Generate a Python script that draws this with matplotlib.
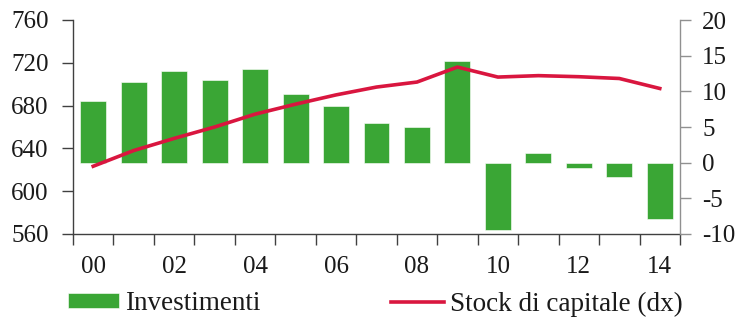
import numpy as np
import matplotlib
matplotlib.use('Agg')
from matplotlib import pyplot as plt
from matplotlib import font_manager

# 年份标签与数据
anni = ['00', '01', '02', '03', '04', '05', '06', '07', '08', '09', '10', '11', '12', '13', '14']
investimenti = [8.6, 11.3, 12.9, 11.6, 13.1, 9.6, 7.9, 5.5, 5.0, 14.2, -9.4, 1.4, -0.7, -2.0, -7.9]
stock_capitale = [-0.5, 1.7, 3.4, 5.0, 6.8, 8.2, 9.5, 10.6, 11.3, 13.4, 12.0, 12.2, 12.05, 11.8, 10.4]
sx_ticks = [560, 600, 640, 680, 720, 760]
dx_ticks = [-10, -5, 0, 5, 10, 15, 20]

# 字体检查（找不到就报错）
font_manager.findfont('Liberation Serif', fallback_to_default=False)
plt.rcParams['font.family'] = ['Liberation Serif', 'DejaVu Serif']
plt.rcParams['font.size'] = 18
plt.rcParams['axes.unicode_minus'] = False

verde = '#3aa635'
rosso = '#d9163f'
testo = '#1a1a1a'

fig = plt.figure(figsize=(7.4, 3.22), dpi=100)
ax1 = fig.add_axes([73 / 740, 1 - 234 / 322, (680 - 73) / 740, 214 / 322])
ax2 = ax1.twinx()

x = np.arange(len(anni))
barre = ax2.bar(x, investimenti, width=0.64, color=verde, edgecolor='white', linewidth=0.4,
                label='Investimenti')
linea, = ax2.plot(x, stock_capitale, color=rosso, linewidth=2.6, label='Stock di capitale (dx)')

# 左轴
ax1.set_ylim(560, 760)
ax1.set_yticks(sx_ticks)
ax1.set_xlim(-0.5, len(anni) - 0.5)
ax1.set_xticks(np.arange(-0.5, len(anni), 1))
ax1.set_xticklabels([])
ax1.set_xticks(x[::2], minor=True)
ax1.set_xticklabels(anni[::2], minor=True)
ax1.tick_params(axis='x', which='major', length=8, width=1, color='#404040')
ax1.tick_params(axis='x', which='minor', length=0, pad=16, labelcolor=testo)
ax1.tick_params(axis='y', length=8, width=1, color='#404040', pad=9.5, labelcolor=testo)
for s in ['top', 'right']:
    ax1.spines[s].set_visible(False)
for s in ['left', 'bottom']:
    ax1.spines[s].set_color('#404040')
    ax1.spines[s].set_linewidth(1)

# 右轴
ax2.set_ylim(-10, 20)
ax2.set_yticks(dx_ticks)
ax2.tick_params(axis='y', length=8, width=1, color='#909090', pad=8, labelcolor=testo)
for s in ['top', 'left', 'bottom']:
    ax2.spines[s].set_visible(False)
ax2.spines['right'].set_color('#909090')
ax2.spines['right'].set_linewidth(1)

# 图例（两个分开放）
kw = dict(loc='center left', frameon=False, borderpad=0, borderaxespad=0,
          handleheight=0.48, handletextpad=0.22, fontsize=19.5, labelcolor=testo)
fig.legend([barre], ['Investimenti'], bbox_to_anchor=(68 / 740, 1 - 304 / 322),
           handlelength=1.9, **kw)
fig.legend([linea], ['Stock di capitale (dx)'], bbox_to_anchor=(391 / 740, 1 - 304 / 322),
           handlelength=1.95, **kw)

fig.savefig('out.png', dpi=100)
